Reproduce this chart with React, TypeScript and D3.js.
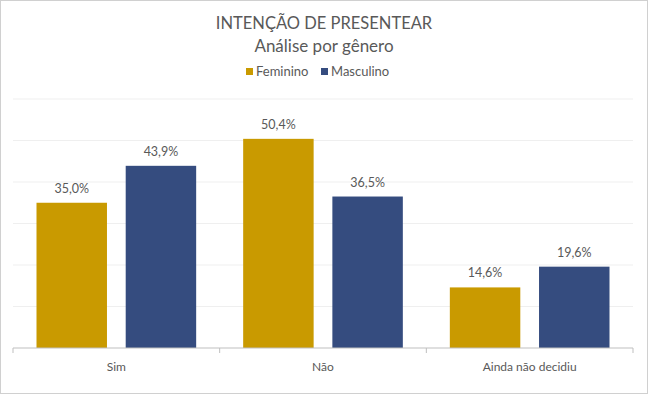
import React, { useEffect, useRef } from 'react'
import * as d3 from 'd3'

const categories = ['Sim', 'Não', 'Ainda não decidiu']
const seriesNames = ['Feminino', 'Masculino']
const feminino = [35.0, 50.4, 14.6]
const masculino = [43.9, 36.5, 19.6]
const colors = ['#C99A00', '#354C7F']
const yTicks = [0, 10, 20, 30, 40, 50, 60]

const W = 648
const H = 394
const margin = { top: 99, right: 15, bottom: 46, left: 13 }

export default function App() {
  const ref = useRef<SVGSVGElement>(null)

  useEffect(() => {
    const svg = d3.select(ref.current)
    svg.selectAll('*').remove()
    const font = 'Lato, "Open Sans", sans-serif'
    const textColor = '#595959'

    const width = W - margin.left - margin.right
    const height = H - margin.top - margin.bottom

    svg.append('rect').attr('x', 0.5).attr('y', 0.5).attr('width', W - 1).attr('height', H - 1)
      .attr('fill', '#fff').attr('stroke', '#d0d0d0')

    const x0 = d3.scaleBand().domain(categories).range([0, width])
    const pad = 23.5
    const x1 = d3.scaleBand().domain(seriesNames).range([pad, x0.bandwidth() - pad]).paddingInner(0.21)
    const y = d3.scaleLinear().domain([0, 60]).range([height, 0])

    const g = svg.append('g').attr('transform', `translate(${margin.left},${margin.top})`)

    // gridlines
    g.selectAll('line.grid').data(yTicks.slice(1)).enter().append('line')
      .attr('x1', 0).attr('x2', width)
      .attr('y1', d => y(d)).attr('y2', d => y(d))
      .attr('stroke', '#efefef').attr('stroke-width', 1)

    const rows = categories.map((c, i) => ({ c, vals: [feminino[i], masculino[i]] }))

    const grp = g.selectAll('g.cat').data(rows).enter().append('g')
      .attr('transform', d => `translate(${x0(d.c)},0)`)

    grp.selectAll('rect').data(d => d.vals.map((v, j) => ({ v, s: seriesNames[j], j }))).enter().append('rect')
      .attr('x', d => x1(d.s)!)
      .attr('width', x1.bandwidth())
      .attr('y', d => y(d.v))
      .attr('height', d => height - y(d.v))
      .attr('fill', d => colors[d.j])

    grp.selectAll('text').data(d => d.vals.map((v, j) => ({ v, s: seriesNames[j] }))).enter().append('text')
      .attr('x', d => x1(d.s)! + x1.bandwidth() / 2)
      .attr('y', d => y(d.v) - 10)
      .attr('text-anchor', 'middle')
      .attr('font-family', font).attr('font-size', 12.5).attr('fill', textColor)
      .text(d => d.v.toFixed(1).replace('.', ',') + '%')

    // x axis
    const ax = g.append('g').attr('transform', `translate(0,${height})`)
    ax.append('line').attr('x1', 0).attr('x2', width).attr('stroke', '#bfbfbf')
    const edges = categories.map(c => x0(c)!).concat([width])
    ax.selectAll('line.tick').data(edges).enter().append('line')
      .attr('x1', d => d).attr('x2', d => d).attr('y1', 0).attr('y2', 5).attr('stroke', '#bfbfbf')
    ax.selectAll('text').data(categories).enter().append('text')
      .attr('x', d => x0(d)! + x0.bandwidth() / 2)
      .attr('y', 23)
      .attr('text-anchor', 'middle')
      .attr('font-family', font).attr('font-size', 12).attr('fill', textColor)
      .text(d => d)

    // titles
    svg.append('text').attr('x', W / 2).attr('y', 29).attr('text-anchor', 'middle')
      .attr('font-family', font).attr('font-size', 16.5).attr('fill', textColor)
      .text('INTENÇÃO DE PRESENTEAR')
    svg.append('text').attr('x', W / 2).attr('y', 52).attr('text-anchor', 'middle')
      .attr('font-family', font).attr('font-size', 17).attr('fill', textColor)
      .text('Análise por gênero')

    // legend
    const legendX = [246, 321]
    const lg = svg.append('g')
    seriesNames.forEach((s, i) => {
      lg.append('rect').attr('x', legendX[i]).attr('y', 68).attr('width', 7).attr('height', 7).attr('fill', colors[i])
      lg.append('text').attr('x', legendX[i] + 10).attr('y', 76)
        .attr('font-family', font).attr('font-size', 13).attr('fill', textColor).text(s)
    })
  }, [])

  return <svg ref={ref} width={W} height={H} style={{ display: 'block', position: 'absolute', left: 0, top: 0 }} />
}
